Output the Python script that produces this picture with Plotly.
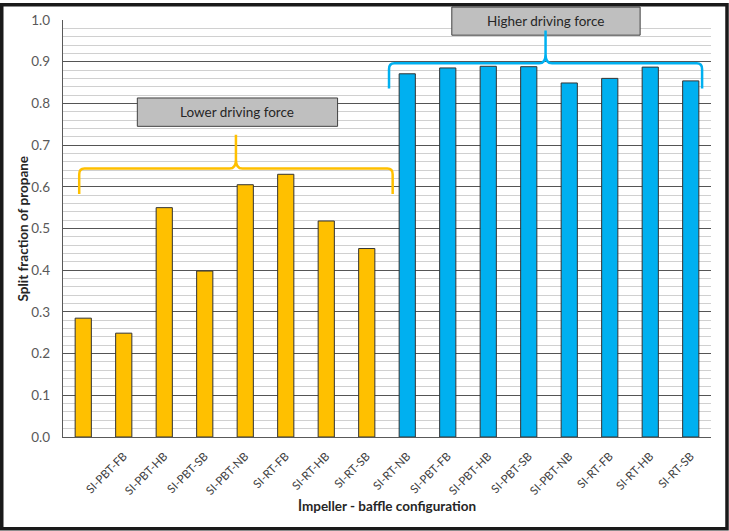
import plotly.graph_objects as go

# ---------------- data ----------------
lower_values = [0.285, 0.249, 0.550, 0.398, 0.605, 0.630, 0.518, 0.452]
higher_values = [0.871, 0.885, 0.889, 0.888, 0.849, 0.860, 0.887, 0.854]
tick_labels = ["SI-PBT-FB", "SI-PBT-HB", "SI-PBT-SB", "SI-PBT-NB", "SI-RT-FB",
               "SI-RT-HB", "SI-RT-SB", "SI-RT-NB", "SI-PBT-FB", "SI-PBT-HB",
               "SI-PBT-SB", "SI-PBT-NB", "SI-RT-FB", "SI-RT-HB", "SI-RT-SB"]
y_ticks = [0.0, 0.1, 0.2, 0.3, 0.4, 0.5, 0.6, 0.7, 0.8, 0.9, 1.0]

lower_x = list(range(len(lower_values)))
higher_x = list(range(len(lower_values), len(lower_values) + len(higher_values)))
n_cat = len(lower_values) + len(higher_values)
tick_pos = list(range(n_cat - len(tick_labels), n_cat))

YELLOW = "#FFC000"
BLUE = "#00B0F0"
FONT = "Lato"

W, H = 729, 531
L, R, T, B = 63, 18, 17, 94
PW, PH = W - L - R, H - T - B


def pxx(px):
    return (px - L) / PW


def pxy(py):
    return (H - B - py) / PH


fig = go.Figure()
fig.add_trace(go.Bar(x=lower_x, y=lower_values, width=0.4,
                     marker=dict(color=YELLOW, line=dict(color="#333333", width=1))))
fig.add_trace(go.Bar(x=higher_x, y=higher_values, width=0.4,
                     marker=dict(color=BLUE, line=dict(color="#333333", width=1))))


def brace(x0, x1, y_end, y_h, y_tip, rx=0.13, ry=0.014, cx=0.16, cy=0.022):
    xc = (x0 + x1) / 2
    p = (f"M {x0},{y_end} L {x0},{y_h - ry} Q {x0},{y_h} {x0 + rx},{y_h} "
         f"L {xc - cx},{y_h} Q {xc},{y_h} {xc},{y_h + cy} L {xc},{y_tip} "
         f"M {xc},{y_h + cy} Q {xc},{y_h} {xc + cx},{y_h} "
         f"L {x1 - rx},{y_h} Q {x1},{y_h} {x1},{y_h - ry} L {x1},{y_end}")
    return p


shapes = []
# label boxes
shapes.append(dict(type="rect", xref="x", yref="paper", x0=1.335, x1=6.28, y0=0.745, y1=0.813,
                   fillcolor="#BFBFBF", line=dict(color="#404040", width=1), layer="above"))
shapes.append(dict(type="rect", xref="x", yref="paper", x0=9.10, x1=13.75, y0=0.9636, y1=1.031,
                   fillcolor="#BFBFBF", line=dict(color="#404040", width=1), layer="above"))
# braces
shapes.append(dict(type="path", xref="x", yref="y", layer="above",
                   path=brace(-0.10, 7.64, 0.583, 0.6436, 0.725),
                   line=dict(color=YELLOW, width=2.5)))
shapes.append(dict(type="path", xref="x", yref="y", layer="above",
                   path=brace(7.55, 15.28, 0.836, 0.896, 0.975),
                   line=dict(color=BLUE, width=2.5)))
# outer frame
shapes.append(dict(type="rect", xref="paper", yref="paper",
                   x0=pxx(1.75), x1=pxx(727), y0=pxy(529.5), y1=pxy(1.75),
                   line=dict(color="#1a1a1a", width=3.5), fillcolor="rgba(0,0,0,0)"))

annotations = [
    dict(x=(1.335 + 6.28) / 2, y=(0.745 + 0.813) / 2, xref="x", yref="paper",
         xanchor="center", yanchor="middle",
         text="Lower driving force", showarrow=False,
         font=dict(family=FONT, size=13.5, color="#262626")),
    dict(x=(9.10 + 13.75) / 2, y=(0.9636 + 1.031) / 2, xref="x", yref="paper",
         xanchor="center", yanchor="middle",
         text="Higher driving force", showarrow=False,
         font=dict(family=FONT, size=13.5, color="#262626")),
    dict(x=pxx(22), y=0.5, xref="paper", yref="paper", text="<b>Split fraction of propane</b>",
         xanchor="center", yanchor="middle",
         textangle=-90, showarrow=False, font=dict(family=FONT, size=13.5, color="#262626")),
    dict(x=0.5, y=pxy(506), xref="paper", yref="paper", text="<b>İmpeller - baffle configuration</b>",
         xanchor="center", yanchor="middle",
         showarrow=False, font=dict(family=FONT, size=13.5, color="#262626")),
]

fig.update_layout(
    width=W, height=H,
    margin=dict(l=L, r=R, t=T, b=B, pad=0),
    paper_bgcolor="white", plot_bgcolor="white",
    showlegend=False,
    barmode="overlay",
    shapes=shapes,
    annotations=annotations,
    font=dict(family=FONT, color="#404040"),
    xaxis=dict(range=[-0.5, n_cat - 0.5], tickmode="array", tickvals=tick_pos,
               ticktext=tick_labels, tickangle=-45, showgrid=False, zeroline=False,
               showline=True, linecolor="#595959", linewidth=1.3,
               ticks="outside", ticklen=7, tickcolor="rgba(0,0,0,0)",
               tickfont=dict(family=FONT, size=11.5, color="#404040")),
    yaxis=dict(range=[0, 1], tickmode="array", tickvals=y_ticks, tickformat=".1f",
               showgrid=True, gridcolor="#555555", gridwidth=1.1, zeroline=False,
               showline=True, linecolor="#595959", linewidth=1.3,
               ticks="outside", ticklen=9, tickcolor="rgba(0,0,0,0)",
               tickfont=dict(family=FONT, size=13.5, color="#595959"),
               minor=dict(dtick=0.02, showgrid=True, gridcolor="#D0D0D0", gridwidth=1.2)),
)

fig.write_html("out.html",
               config={"displayModeBar": False},
               post_script="document.body.style.margin='0';document.body.style.overflow='hidden';")
